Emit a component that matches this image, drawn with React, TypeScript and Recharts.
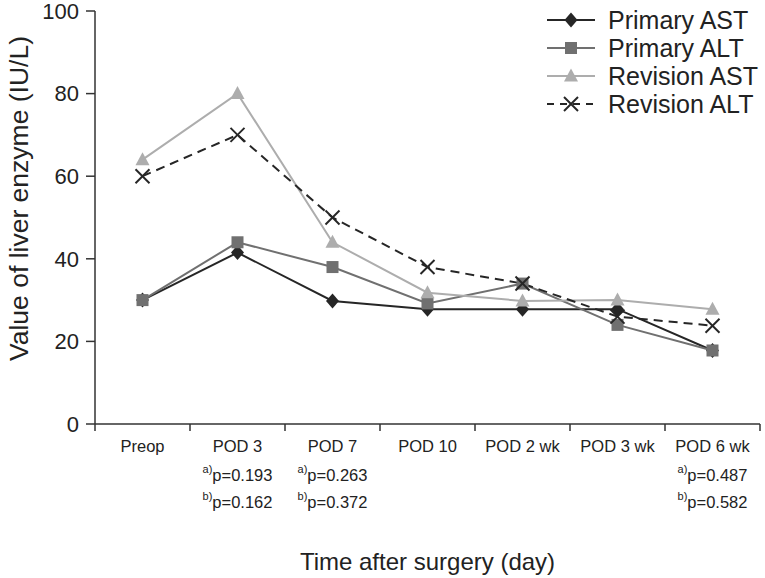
import { CartesianGrid, Legend, Line, LineChart, XAxis, YAxis } from "recharts";

const categories = ["Preop", "POD 3", "POD 7", "POD 10", "POD 2 wk", "POD 3 wk", "POD 6 wk"];
const primaryAST = [30, 41.5, 29.8, 27.8, 27.8, 27.8, 17.8];
const primaryALT = [30, 44, 38, 29.2, 34, 24, 17.8];
const revisionAST = [64, 80, 44, 31.8, 29.8, 30, 27.8];
const revisionALT = [60, 70, 50, 38, 34, 26, 23.8];
const pValueA = ["", "0.193", "0.263", "", "", "", "0.487"];
const pValueB = ["", "0.162", "0.372", "", "", "", "0.582"];
const yTicks = [0, 20, 40, 60, 80, 100];

const data = categories.map((name, i) => ({
  name,
  primaryAST: primaryAST[i],
  primaryALT: primaryALT[i],
  revisionAST: revisionAST[i],
  revisionALT: revisionALT[i],
}));

const FONT = '"Liberation Sans", Arial, sans-serif';
const AXIS = "#333";

// series look, in legend order
const seriesDefs = [
  { key: "primaryAST", name: "Primary AST", color: "#262626", marker: "diamond", dash: undefined },
  { key: "primaryALT", name: "Primary ALT", color: "#707070", marker: "square", dash: undefined },
  { key: "revisionAST", name: "Revision AST", color: "#adadad", marker: "triangle", dash: undefined },
  { key: "revisionALT", name: "Revision ALT", color: "#262626", marker: "cross", dash: "9 6" },
];

function Marker({ kind, cx, cy, color }: { kind: string; cx: number; cy: number; color: string }) {
  if (kind === "diamond") {
    return <polygon points={`${cx},${cy - 7.5} ${cx + 6.5},${cy} ${cx},${cy + 7.5} ${cx - 6.5},${cy}`} fill={color} />;
  }
  if (kind === "square") {
    return <rect x={cx - 6} y={cy - 6} width={12} height={12} fill={color} />;
  }
  if (kind === "triangle") {
    return <polygon points={`${cx},${cy - 7.5} ${cx + 7},${cy + 5.5} ${cx - 7},${cy + 5.5}`} fill={color} />;
  }
  return (
    <g stroke={color} strokeWidth={2}>
      <line x1={cx - 7} y1={cy - 7} x2={cx + 7} y2={cy + 7} />
      <line x1={cx - 7} y1={cy + 7} x2={cx + 7} y2={cy - 7} />
    </g>
  );
}

const WIDTH = 765;
const HEIGHT = 578;
const LEFT = 95;
const RIGHT = 5;
const BAND = (WIDTH - LEFT - RIGHT) / categories.length;

function XTick(props: any) {
  const { x, y, payload, index } = props;
  const a = pValueA[index];
  const b = pValueB[index];
  return (
    <g fontFamily={FONT} fill="#222">
      <line x1={x + BAND / 2} y1={y} x2={x + BAND / 2} y2={y + 7} stroke={AXIS} strokeWidth={1.5} />
      {index === 0 && <line x1={x - BAND / 2} y1={y} x2={x - BAND / 2} y2={y + 7} stroke={AXIS} strokeWidth={1.5} />}
      <text x={x} y={y + 28} textAnchor="middle" fontSize={16.5} fill="#222">
        {payload.value}
      </text>
      {a && (
        <text x={x} y={y + 57} textAnchor="middle" fontSize={16.5} fill="#222">
          <tspan fontSize={11} dy={-8}>a)</tspan>
          <tspan dy={8}>p={a}</tspan>
        </text>
      )}
      {b && (
        <text x={x} y={y + 84} textAnchor="middle" fontSize={16.5} fill="#222">
          <tspan fontSize={11} dy={-8}>b)</tspan>
          <tspan dy={8}>p={b}</tspan>
        </text>
      )}
    </g>
  );
}

function LegendBox() {
  return (
    <svg width={225} height={120} style={{ display: "block" }}>
      {seriesDefs.map((s, i) => {
        const cy = 20 + i * 28;
        return (
          <g key={s.key}>
            <line x1={7} y1={cy} x2={55} y2={cy} stroke={s.color} strokeWidth={2} strokeDasharray={s.dash ? "7 6" : undefined} />
            <Marker kind={s.marker} cx={31} cy={cy} color={s.color} />
            <text x={68} y={cy + 8.5} fontSize={25} fontFamily={FONT} fill="#222">
              {s.name}
            </text>
          </g>
        );
      })}
    </svg>
  );
}

export default function App() {
  return (
    <div style={{ position: "absolute", left: 0, top: 0, width: WIDTH, height: HEIGHT, background: "#fff" }}>
      <LineChart width={WIDTH} height={HEIGHT} data={data} margin={{ top: 11, right: RIGHT, left: 0, bottom: 0 }}>
        <CartesianGrid horizontal={false} vertical={false} />
        <XAxis
          dataKey="name"
          scale="band"
          height={HEIGHT - 424}
          axisLine={{ stroke: AXIS, strokeWidth: 1.5 }}
          tickLine={false}
          tickSize={0}
          tickMargin={0}
          interval={0}
          tick={<XTick />}
          label={(p: any) => {
            const vb = p.viewBox;
            return (
              <text x={vb.x + vb.width / 2} y={vb.y + 146} textAnchor="middle" fontSize={24} fontFamily={FONT} fill="#222">
                Time after surgery (day)
              </text>
            );
          }}
        />
        <YAxis
          width={LEFT}
          domain={[0, 100]}
          ticks={yTicks}
          interval={0}
          axisLine={{ stroke: AXIS, strokeWidth: 1.5 }}
          tickLine={{ stroke: AXIS, strokeWidth: 1.5 }}
          tickSize={9}
          tickMargin={7}
          tick={{ fontSize: 22, fontFamily: FONT, fill: "#222" }}
          label={(p: any) => {
            const vb = p.viewBox;
            const cx = 19;
            const cy = vb.y + vb.height / 2 - 19;
            return (
              <text
                x={cx}
                y={cy}
                transform={`rotate(-90 ${cx} ${cy})`}
                textAnchor="middle"
                dominantBaseline="central"
                fontSize={26.5}
                fontFamily={FONT}
                fill="#222"
              >
                Value of liver enzyme (IU/L)
              </text>
            );
          }}
        />
        <Legend
          layout="horizontal"
          verticalAlign="middle"
          align="center"
          wrapperStyle={{ position: "absolute", top: 0, left: 540, width: 225, height: 120 }}
          content={() => <LegendBox />}
        />
        {seriesDefs.map((s) => (
          <Line
            key={s.key}
            dataKey={s.key}
            name={s.name}
            stroke={s.color}
            strokeWidth={2}
            strokeDasharray={s.dash}
            isAnimationActive={false}
            dot={(p: any) => <Marker key={`${s.key}-${p.index}`} kind={s.marker} cx={p.cx} cy={p.cy} color={s.color} />}
            activeDot={false}
          />
        ))}
      </LineChart>
    </div>
  );
}
